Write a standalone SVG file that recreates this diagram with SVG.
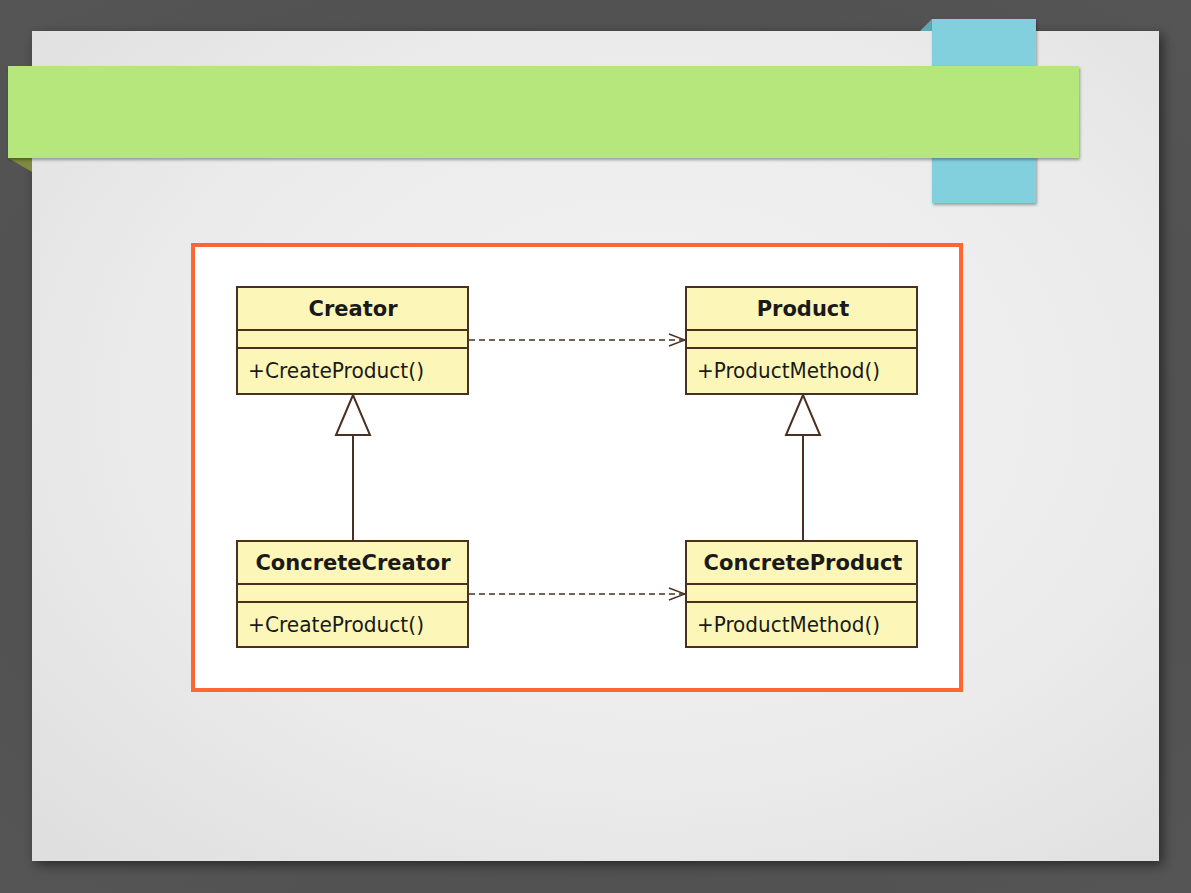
<svg xmlns="http://www.w3.org/2000/svg" width="1191" height="893" viewBox="0 0 1191 893">
<defs>
<radialGradient id="slide" cx="0.55" cy="0.45" r="0.75">
<stop offset="0" stop-color="#f3f3f3"/>
<stop offset="0.6" stop-color="#ebebeb"/>
<stop offset="1" stop-color="#dfdfdf"/>
</radialGradient>
<radialGradient id="bg" cx="0.5" cy="0.5" r="0.7">
<stop offset="0" stop-color="#4a4a4a"/>
<stop offset="1" stop-color="#555555"/>
</radialGradient>
<filter id="sh" x="-10%" y="-10%" width="120%" height="120%">
<feGaussianBlur in="SourceAlpha" stdDeviation="6"/>
<feOffset dx="4" dy="4"/>
<feComponentTransfer><feFuncA type="linear" slope="0.5"/></feComponentTransfer>
<feMerge><feMergeNode/><feMergeNode in="SourceGraphic"/></feMerge>
</filter>
<filter id="sh2" x="-5%" y="-20%" width="110%" height="140%">
<feGaussianBlur in="SourceAlpha" stdDeviation="1.5"/>
<feOffset dx="1" dy="2"/>
<feComponentTransfer><feFuncA type="linear" slope="0.35"/></feComponentTransfer>
<feMerge><feMergeNode/><feMergeNode in="SourceGraphic"/></feMerge>
</filter>
<marker id="open" viewBox="0 0 18 14" refX="17" refY="7" markerWidth="18" markerHeight="14" markerUnits="userSpaceOnUse" orient="auto">
<path d="M1,1 L17,7 L1,13" fill="none" stroke="#4a3020" stroke-width="1.4"/>
</marker>
</defs>
<style>
.box{fill:#fcf7b8;stroke:#4a3020;stroke-width:2}
.div{stroke:#4a3020;stroke-width:2}
.title{font-family:"DejaVu Sans",Verdana,sans-serif;font-weight:bold;font-size:21px;fill:#1a1a1a;text-anchor:middle}
.op{font-family:"DejaVu Sans Condensed","DejaVu Sans",sans-serif;font-size:22px;fill:#1a1a1a}
.dash{stroke:#4a3020;stroke-width:1.6;stroke-dasharray:6 4;fill:none}
.gen{stroke:#4a3020;stroke-width:2;fill:none}
.head{fill:#ffffff;stroke:#4a3020;stroke-width:2}
</style>
<rect width="1191" height="893" fill="url(#bg)"/>
<g id="slide">
<rect x="32" y="31" width="1127" height="830" fill="url(#slide)" filter="url(#sh)"/>
</g>
<g id="tab">
<polygon points="920,31 932,19 932,31" fill="#5fa8b4"/>
<rect x="932" y="19" width="104" height="184" fill="#82d0de" filter="url(#sh2)"/>
</g>
<g id="banner">
<polygon points="8,158 32,158 32,172" fill="#7f8a3e"/>
<rect x="8" y="66" width="1071" height="92" fill="#b5e77c" filter="url(#sh2)"/>
</g>
<g id="frame">
<rect x="193" y="245" width="768" height="445" fill="#ffffff" stroke="#ff6633" stroke-width="4"/>
</g>
<g id="connectors">
<line x1="469" y1="340" x2="685" y2="340" class="dash" marker-end="url(#open)"/>
<line x1="469" y1="594" x2="685" y2="594" class="dash" marker-end="url(#open)"/>
<line x1="353" y1="435" x2="353" y2="540" class="gen"/>
<polygon points="353,395 336,435 370,435" class="head"/>
<line x1="803" y1="435" x2="803" y2="540" class="gen"/>
<polygon points="803,395 786,435 820,435" class="head"/>
</g>
<g id="creator">
<rect x="237" y="287" width="231" height="107" class="box"/>
<line x1="237" y1="330" x2="468" y2="330" class="div"/>
<line x1="237" y1="348" x2="468" y2="348" class="div"/>
<text x="353" y="316" class="title">Creator</text>
<text x="248" y="378" class="op" textLength="176" lengthAdjust="spacingAndGlyphs">+CreateProduct()</text>
</g>
<g id="product">
<rect x="686" y="287" width="231" height="107" class="box"/>
<line x1="686" y1="330" x2="917" y2="330" class="div"/>
<line x1="686" y1="348" x2="917" y2="348" class="div"/>
<text x="803" y="316" class="title">Product</text>
<text x="697" y="378" class="op" textLength="183" lengthAdjust="spacingAndGlyphs">+ProductMethod()</text>
</g>
<g id="concreteCreator">
<rect x="237" y="541" width="231" height="106" class="box"/>
<line x1="237" y1="584" x2="468" y2="584" class="div"/>
<line x1="237" y1="602" x2="468" y2="602" class="div"/>
<text x="353" y="570" class="title">ConcreteCreator</text>
<text x="248" y="632" class="op" textLength="176" lengthAdjust="spacingAndGlyphs">+CreateProduct()</text>
</g>
<g id="concreteProduct">
<rect x="686" y="541" width="231" height="106" class="box"/>
<line x1="686" y1="584" x2="917" y2="584" class="div"/>
<line x1="686" y1="602" x2="917" y2="602" class="div"/>
<text x="803" y="570" class="title">ConcreteProduct</text>
<text x="697" y="632" class="op" textLength="183" lengthAdjust="spacingAndGlyphs">+ProductMethod()</text>
</g>
</svg>
